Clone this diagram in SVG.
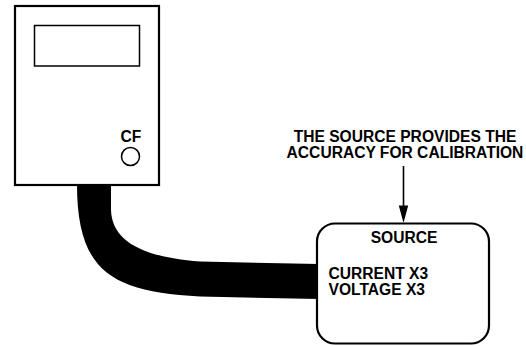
<svg xmlns="http://www.w3.org/2000/svg" width="526" height="346" viewBox="0 0 526 346">
<style>
.t{font-family:"Liberation Sans",Arial,sans-serif;font-weight:bold;font-size:15.6px;fill:#000}
.m{text-anchor:middle}
.box{fill:#fff;stroke:#000;stroke-width:2.2}
</style>
<rect width="526" height="346" fill="#fff"/>
<g id="connectors">
<path id="cable" d="M77,184 C77,270 110,292 200,296.5 L319,299 L319,264 L200,261.5 C140,257 112,240 111,210 L111,184 Z" fill="#000"/>
<path id="arrow" d="M403.5,166 L403.5,206" stroke="#000" stroke-width="1.6" fill="none"/>
<path d="M398.8,205.5 L408.2,205.5 L403.5,223 Z" fill="#000"/>
</g>
<g id="meter">
<rect class="box" x="15" y="6" width="144" height="179"/>
<rect x="34.5" y="25.5" width="105" height="40.5" fill="none" stroke="#000" stroke-width="1.5"/>
<text class="t m" x="131" y="141.5">CF</text>
<circle cx="130.5" cy="156.5" r="9" fill="none" stroke="#000" stroke-width="1.5"/>
</g>
<g id="source">
<rect class="box" x="317" y="223.5" width="172" height="120" rx="18"/>
<text class="t m" x="404" y="242.5">SOURCE</text>
<text class="t" x="328.5" y="278.5">CURRENT X3</text>
<text class="t" x="328.5" y="295">VOLTAGE X3</text>
</g>
<g id="note">
<text class="t m" x="405" y="141.5">THE SOURCE PROVIDES THE</text>
<text class="t m" x="405" y="158">ACCURACY FOR CALIBRATION</text>
</g>
</svg>
